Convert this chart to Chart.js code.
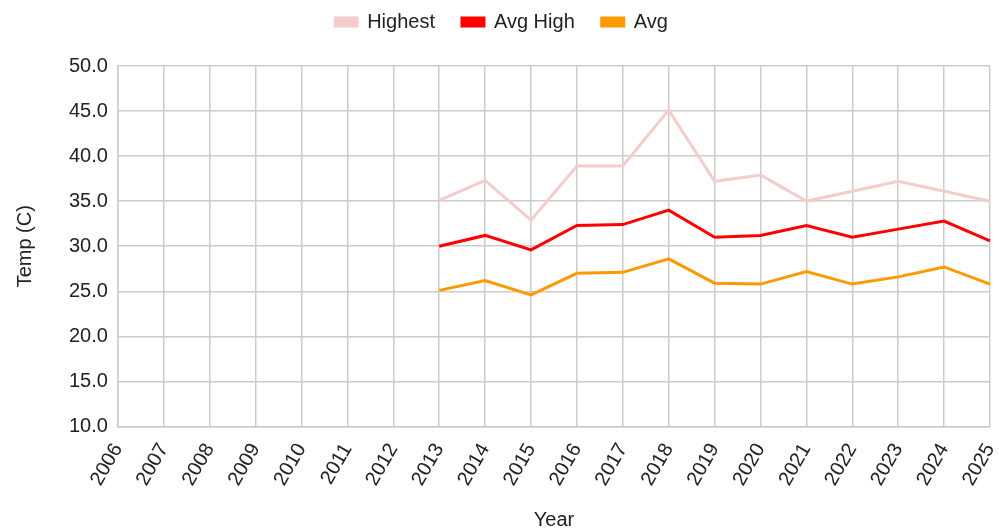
<!DOCTYPE html>
<html>
<head>
<meta charset="utf-8">
<script src="https://cdn.jsdelivr.net/npm/chart.js@4"></script>
<style>
  html, body { margin: 0; padding: 0; background: #fff; }
  #wrap { width: 999px; height: 532px; }
</style>
</head>
<body>
<div id="wrap"><canvas id="temps"></canvas></div>
<script>
const years = ['2006','2007','2008','2009','2010','2011','2012','2013','2014','2015',
    '2016','2017','2018','2019','2020','2021','2022','2023','2024','2025'];
const highest = [null, null, null, null, null, null, null,
    35.1, 37.3, 32.9, 38.9, 38.9, 45.1, 37.2, 37.9, 35.0, 36.1, 37.2, 36.1, 35.0];
const avgHigh = [null, null, null, null, null, null, null,
    30.0, 31.2, 29.6, 32.3, 32.4, 34.0, 31.0, 31.2, 32.3, 31.0, 31.9, 32.8, 30.6];
const avg = [null, null, null, null, null, null, null,
    25.1, 26.2, 24.6, 27.0, 27.1, 28.6, 25.9, 25.8, 27.2, 25.8, 26.6, 27.7, 25.8];

const family = '"Liberation Sans", Arial, sans-serif';
const tickFont = { family: family, size: 20 };
const legendFont = { family: family, size: 20 };

// extra room between the legend and the plot
const legendGap = {
    id: 'legendGap',
    beforeInit(chart) {
        const fit = chart.legend.fit;
        chart.legend.fit = function() {
            fit.bind(chart.legend)();
            this.height += 24;
        };
    }
};

const ctx = document.getElementById('temps').getContext('2d');
const chart = new Chart(ctx, {
    type: 'line',
    data: {
        labels: years,
        datasets: [
            { label: 'Highest', data: highest, borderColor: '#f4cccc', backgroundColor: '#f4cccc' },
            { label: 'Avg High', data: avgHigh, borderColor: '#ff0000', backgroundColor: '#ff0000' },
            { label: 'Avg', data: avg, borderColor: '#ff9900', backgroundColor: '#ff9900' }
        ]
    },
    plugins: [legendGap],
    options: {
        responsive: true,
        maintainAspectRatio: false,
        animation: false,
        elements: {
            line: { borderWidth: 3, tension: 0 },
            point: { radius: 0, hoverRadius: 0 }
        },
        layout: { padding: { left: 13, right: 9, top: -15, bottom: 0 } },
        plugins: {
            legend: {
                position: 'top',
                labels: { font: legendFont, color: '#222', boxWidth: 22, boxHeight: 8, padding: 27 }
            },
            tooltip: { enabled: false }
        },
        scales: {
            x: {
                offset: false,
                grid: { color: '#cccccc', lineWidth: 1.5, drawTicks: false },
                border: { color: '#cccccc', width: 1.5 },
                ticks: { font: tickFont, color: '#222', maxRotation: 60, minRotation: 60, autoSkip: false, padding: 13 },
                title: { display: true, text: 'Year', font: tickFont, color: '#222', padding: { top: 5, bottom: 0 } },
                afterFit(scale) {
                    scale.paddingRight = 0;
                }
            },
            y: {
                min: 10,
                max: 50,
                grid: { color: '#cccccc', lineWidth: 1.5, drawTicks: false },
                border: { color: '#cccccc', width: 1.5 },
                ticks: {
                    stepSize: 5,
                    font: tickFont,
                    color: '#222',
                    padding: 10,
                    callback: function(v) { return v.toFixed(1); }
                },
                title: { display: true, text: 'Temp (C)', font: tickFont, color: '#222', padding: { top: 0, bottom: 22 } }
            }
        }
    }
});
</script>
</body>
</html>
